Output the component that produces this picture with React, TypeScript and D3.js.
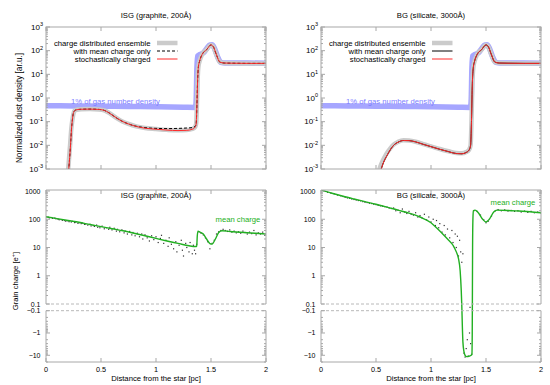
import React from 'react';
import * as d3 from 'd3';

const FONT = "'Liberation Sans', Arial, Helvetica, sans-serif";

// ---------- data ----------
const distTicks = [0, 0.5, 1, 1.5, 2];
const distTickLabels = ['0', '0.5', '1', '1.5', '2'];
const densityExps = [-3, -2, -1, 0, 1, 2, 3];
const chargePosTicks = [0.1, 1, 10, 100, 1000];
const chargePosLabels = ['0.1', '1', '10', '100', '1000'];
const chargeNegTicks = [0.1, 1, 10];
const chargeNegLabels = ['\u22120.1', '\u22121', '\u221210'];

const panelTitles = ['ISG (graphite, 200\u00C5)', 'BG (silicate, 3000\u00C5)'];
const legendLabels = ['charge distributed ensemble', 'with mean charge only', 'stochastically charged'];

// gas (1% of gas number density) - same in both panels
const gasX = [0, 0.25, 0.5, 0.75, 1.0, 1.25, 1.36, 1.366, 1.372, 1.38, 1.4, 1.43, 1.46, 1.49, 1.51, 1.53, 1.56, 1.59, 1.63, 1.75, 2.0];
const gasY = [0.47, 0.46, 0.45, 0.44, 0.43, 0.41, 0.4, 1, 20, 60, 70, 80, 120, 175, 178, 130, 55, 32, 30, 30, 29.5];

// ISG density
const isgEnsX = [0.2, 0.21, 0.22, 0.23, 0.24, 0.25, 0.26, 0.28, 0.32, 0.4, 0.48, 0.53, 0.57, 0.61, 0.65, 0.7, 0.75, 0.82, 0.9, 1.0, 1.1, 1.2, 1.28, 1.33, 1.355, 1.365, 1.372, 1.378, 1.385, 1.395, 1.42, 1.46, 1.5, 1.52, 1.55, 1.58, 1.62, 1.7, 1.85, 2.0];
const isgEnsY = [0.0008, 0.003, 0.012, 0.05, 0.12, 0.22, 0.29, 0.32, 0.335, 0.34, 0.33, 0.3, 0.24, 0.18, 0.135, 0.1, 0.08, 0.063, 0.054, 0.049, 0.045, 0.043, 0.044, 0.049, 0.059, 0.08, 0.5, 5, 20, 34, 70, 110, 175, 150, 66, 33, 30, 29.5, 29, 29];
const isgMeanX = [0.205, 0.215, 0.224, 0.232, 0.24, 0.248, 0.26, 0.28, 0.32, 0.4, 0.48, 0.53, 0.57, 0.61, 0.65, 0.7, 0.75, 0.82, 0.9, 1.0, 1.1, 1.2, 1.28, 1.33, 1.355, 1.365, 1.372, 1.378, 1.385, 1.395, 1.42, 1.46, 1.5, 1.52, 1.55, 1.58, 1.62, 1.7, 1.85, 2.0];
const isgMeanY = [0.0008, 0.003, 0.012, 0.05, 0.12, 0.22, 0.29, 0.32, 0.335, 0.34, 0.33, 0.3, 0.24, 0.18, 0.135, 0.1, 0.08, 0.064, 0.056, 0.052, 0.051, 0.052, 0.054, 0.056, 0.062, 0.08, 0.5, 5, 20, 34, 70, 110, 175, 150, 66, 33, 30, 29.5, 29, 29];
const isgStoX = isgMeanX;
const isgStoY = [0.0008, 0.003, 0.012, 0.05, 0.12, 0.22, 0.29, 0.32, 0.335, 0.34, 0.33, 0.3, 0.24, 0.18, 0.135, 0.1, 0.08, 0.063, 0.053, 0.048, 0.044, 0.042, 0.043, 0.048, 0.058, 0.08, 0.5, 5, 20, 34, 70, 110, 175, 150, 66, 33, 30, 29.5, 29, 29];

// BG density
const bgEnsX = [0.525, 0.54, 0.56, 0.58, 0.6, 0.63, 0.66, 0.7, 0.75, 0.8, 0.86, 0.93, 1.0, 1.08, 1.16, 1.23, 1.28, 1.32, 1.345, 1.36, 1.368, 1.375, 1.385, 1.395, 1.42, 1.46, 1.5, 1.52, 1.55, 1.58, 1.62, 1.7, 1.85, 2.0];
const bgEnsY = [0.0008, 0.0013, 0.0022, 0.0033, 0.0048, 0.0075, 0.0108, 0.014, 0.0163, 0.016, 0.0142, 0.0112, 0.009, 0.007, 0.0056, 0.0047, 0.0046, 0.0052, 0.0064, 0.01, 0.1, 3, 20, 34, 70, 110, 175, 150, 66, 33, 30, 29.5, 29, 29];
const bgMeanX = [0.545, 0.56, 0.58, 0.6, 0.63, 0.66, 0.7, 0.75, 0.8, 0.86, 0.93, 1.0, 1.08, 1.16, 1.23, 1.28, 1.32, 1.345, 1.36, 1.368, 1.375, 1.385, 1.395, 1.42, 1.46, 1.5, 1.52, 1.55, 1.58, 1.62, 1.7, 1.85, 2.0];
const bgMeanY = [0.0009, 0.0015, 0.0025, 0.0037, 0.0065, 0.01, 0.0135, 0.016, 0.0158, 0.014, 0.011, 0.0088, 0.0068, 0.0054, 0.0045, 0.0044, 0.005, 0.0062, 0.01, 0.1, 3, 20, 34, 70, 110, 175, 150, 66, 33, 30, 29.5, 29, 29];
const bgStoX = bgMeanX;
const bgStoY = bgMeanY;

// ISG charge
const isgChargeX = [0, 0.1, 0.2, 0.3, 0.4, 0.5, 0.6, 0.7, 0.8, 0.9, 1.0, 1.1, 1.2, 1.3, 1.36, 1.37, 1.375, 1.382, 1.4, 1.43, 1.46, 1.49, 1.51, 1.54, 1.57, 1.6, 1.65, 1.7, 1.8, 1.9, 2.0];
const isgChargeY = [123, 105, 90, 78, 65, 55, 46, 39, 32, 26, 21, 17, 14, 11.5, 10.8, 11, 25, 38, 35, 30, 20, 13.8, 13.2, 20, 34, 39, 38, 36, 34, 32, 30];
const isgDotX = [0.0, 0.02, 0.03, 0.05, 0.06, 0.08, 0.09, 0.11, 0.12, 0.14, 0.15, 0.17, 0.18, 0.2, 0.21, 0.23, 0.24, 0.26, 0.27, 0.29, 0.3, 0.32, 0.33, 0.35, 0.36, 0.38, 0.4, 0.41, 0.43, 0.44, 0.46, 0.47, 0.49, 0.51, 0.53, 0.55, 0.57, 0.58, 0.6, 0.62, 0.64, 0.65, 0.67, 0.69, 0.71, 0.72, 0.74, 0.76, 0.78, 0.79, 0.81, 0.83, 0.85, 0.87, 0.88, 0.9, 0.92, 0.94, 0.96, 0.98, 1.0, 1.02, 1.04, 1.05, 1.07, 1.09, 1.11, 1.12, 1.14, 1.16, 1.18, 1.19, 1.21, 1.23, 1.24, 1.25, 1.27, 1.28, 1.3, 1.31, 1.33, 1.34, 1.35, 1.36, 1.37, 1.39, 1.41, 1.43, 1.45, 1.47, 1.49, 1.51, 1.53, 1.55, 1.57, 1.59, 1.61, 1.63, 1.65, 1.67, 1.69, 1.71, 1.73, 1.75, 1.77, 1.79, 1.81, 1.83, 1.85, 1.87, 1.89, 1.91, 1.93, 1.95, 1.97, 1.99];
const isgDotY = [120, 118, 112, 115, 108, 110, 104, 100, 96, 97, 92, 90, 85, 88, 82, 80, 84, 76, 79, 72, 75, 70, 73, 66, 68, 62, 66, 58, 60, 56, 62, 52, 50, 57, 46, 50, 44, 52, 42, 48, 38, 44, 36, 42, 33, 38, 30, 37, 28, 34, 26, 32, 24, 30, 20, 28, 22, 17, 26, 19, 24, 15, 21, 27, 14, 18, 11, 22, 13, 9, 16, 7, 12, 18, 8, 5, 14, 10, 7, 15, 6, 12, 8, 6, 13, 36, 32, 28, 22, 16, 9, 14, 18, 30, 36, 40, 44, 40, 37, 42, 35, 38, 33, 36, 32, 38, 34, 30, 35, 31, 40, 28, 33, 30, 35, 27];

// BG charge
const bgChargeX = [0, 0.1, 0.2, 0.3, 0.4, 0.5, 0.6, 0.7, 0.8, 0.9, 1.0, 1.05, 1.1, 1.15, 1.2, 1.23, 1.25, 1.265, 1.275, 1.28, 1.285, 1.29, 1.3, 1.31, 1.325, 1.345, 1.365, 1.372, 1.375, 1.378, 1.381, 1.385, 1.4, 1.43, 1.47, 1.5, 1.53, 1.57, 1.6, 1.7, 1.8, 1.9, 2.0];
const bgChargeY = [1080, 830, 650, 520, 420, 340, 270, 210, 165, 120, 75, 50, 32, 20, 12, 7, 4, 1.5, 0.3, 0.05, -0.5, -2.5, -7, -10, -11.5, -11, -10, -9, -1, 10, 100, 200, 210, 170, 100, 80, 100, 180, 210, 205, 195, 185, 170];
const bgDotX = [0.0, 0.03, 0.06, 0.09, 0.12, 0.15, 0.18, 0.2, 0.22, 0.24, 0.26, 0.28, 0.3, 0.32, 0.34, 0.36, 0.38, 0.4, 0.42, 0.44, 0.46, 0.48, 0.5, 0.52, 0.54, 0.56, 0.58, 0.6, 0.62, 0.64, 0.66, 0.68, 0.7, 0.72, 0.74, 0.76, 0.78, 0.8, 0.82, 0.84, 0.86, 0.88, 0.9, 0.92, 0.94, 0.96, 0.98, 1.0, 1.02, 1.04, 1.05, 1.07, 1.08, 1.1, 1.12, 1.13, 1.15, 1.17, 1.19, 1.2, 1.22, 1.23, 1.24, 1.25, 1.26, 1.27, 1.28, 1.29, 1.3, 1.31, 1.32, 1.33, 1.34, 1.35, 1.355, 1.36, 1.37, 1.39, 1.42, 1.45, 1.48, 1.5, 1.52, 1.55, 1.58, 1.61, 1.64, 1.67, 1.7, 1.73, 1.76, 1.79, 1.82, 1.85, 1.88, 1.91, 1.94, 1.97, 2.0];
const bgDotY = [1050, 980, 900, 840, 790, 720, 680, 640, 600, 570, 550, 520, 500, 480, 460, 450, 420, 400, 390, 370, 360, 340, 330, 310, 300, 290, 280, 270, 250, 240, 250, 200, 210, 170, 230, 180, 160, 190, 150, 140, 170, 120, 135, 110, 150, 95, 120, 80, 100, 60, 90, 50, 70, 35, 60, 28, 45, 22, 40, 15, 30, 10, 25, 5, 18, 7, 3, 6, -8, -12, -5, -2, -11, -1, 0, -3, -9, 200, 190, 140, 95, 75, 85, 130, 190, 220, 200, 215, 195, 205, 190, 200, 180, 195, 175, 190, 170, 180, 165];

// ---------- styles ----------
const FRAME = '#a8a8a8';
const GAS = '#a6a6ff';
const GAS_TEXT = '#7c7cff';
const ENS = '#cbcbcb';
const RED = '#ff2a2a';
const GREEN = '#22b022';
const FS = 7.7;
const TFS = 7;

const PW = 220;

function xScale(x0: number) {
  return d3.scaleLinear().domain([0, 2]).range([x0, x0 + PW]);
}

function pathFrom(X: number[], Y: number[], fx: (v: number) => number, fy: (v: number) => number) {
  const gen = d3.line<[number, number]>().curve(d3.curveMonotoneX);
  return gen(X.map((x, i) => [fx(x), fy(Y[i])] as [number, number])) || '';
}

function minorLog(lo: number, hi: number) {
  const out: number[] = [];
  for (let e = lo; e < hi; e++) for (let k = 2; k <= 9; k++) out.push(k * Math.pow(10, e));
  return out;
}

function DensityPanel({ idx, x0, ensX, ensY, meanX, meanY, meanDash, stoX, stoY, showYLabel }: any) {
  const xs = xScale(x0);
  const top = 27, bot = 169;
  const ys = d3.scaleLog().domain([1e-3, 1e3]).range([bot, top]);
  const clipId = 'clipD' + idx;
  const lx = x0 + 104.5;
  const legY = [43, 51, 59];
  return (
    <g>
      <defs>
        <clipPath id={clipId}><rect x={x0} y={top} width={PW} height={bot - top} /></clipPath>
      </defs>
      <text x={x0 + 110} y={18} textAnchor="middle" fontSize={FS} fontFamily={FONT}>{panelTitles[idx]}</text>
      <g clipPath={`url(#${clipId})`} fill="none">
        <path d={pathFrom(gasX, gasY, xs, ys)} stroke={GAS} strokeWidth={5.5} strokeLinejoin="round" />
        <path d={pathFrom(ensX, ensY, xs, ys)} stroke={ENS} strokeWidth={4.5} strokeLinejoin="round" />
        <path d={pathFrom(meanX, meanY, xs, ys)} stroke="#000" strokeWidth={1} strokeDasharray={meanDash ? '3,2' : undefined} />
        <path d={pathFrom(stoX, stoY, xs, ys)} stroke={RED} strokeWidth={1} />
      </g>
      <text x={x0 + 25} y={103.5} fontSize={FS} fontFamily={FONT} fill={GAS_TEXT}>1% of gas number density</text>
      {/* legend */}
      {legendLabels.map((l, i) => (
        <text key={l} x={lx} y={legY[i] + 2.7} textAnchor="end" fontSize={FS} fontFamily={FONT}>{l}</text>
      ))}
      <line x1={lx + 6.5} x2={lx + 27} y1={legY[0]} y2={legY[0]} stroke={ENS} strokeWidth={4.5} />
      <line x1={lx + 6.5} x2={lx + 27} y1={legY[1]} y2={legY[1]} stroke="#000" strokeWidth={1} strokeDasharray={meanDash ? '3,2' : undefined} />
      <line x1={lx + 6.5} x2={lx + 27} y1={legY[2]} y2={legY[2]} stroke={RED} strokeWidth={1} />
      {/* frame */}
      <rect x={x0} y={top} width={PW} height={bot - top} fill="none" stroke={FRAME} strokeWidth={1} />
      {densityExps.map((e) => {
        const y = ys(Math.pow(10, e));
        return (
          <g key={e}>
            <line x1={x0} x2={x0 + 4} y1={y} y2={y} stroke={FRAME} />
            <line x1={x0 + PW} x2={x0 + PW - 4} y1={y} y2={y} stroke={FRAME} />
            <text x={x0 - 3} y={y + 2.8} textAnchor="end" fontSize={8} fontFamily={FONT}>
              10<tspan dy={-3.5} fontSize={5.5}>{String(e)}</tspan>
            </text>
          </g>
        );
      })}
      {minorLog(-3, 3).map((v, i) => {
        const y = ys(v);
        return (
          <g key={'m' + i}>
            <line x1={x0} x2={x0 + 2} y1={y} y2={y} stroke={FRAME} />
            <line x1={x0 + PW} x2={x0 + PW - 2} y1={y} y2={y} stroke={FRAME} />
          </g>
        );
      })}
      {distTicks.map((t) => (
        <g key={t}>
          <line x1={xs(t)} x2={xs(t)} y1={bot} y2={bot - 4} stroke={FRAME} />
          <line x1={xs(t)} x2={xs(t)} y1={top} y2={top + 4} stroke={FRAME} />
        </g>
      ))}
      {showYLabel && (
        <text transform={`translate(21.8,108) rotate(-90)`} textAnchor="middle" fontSize={8.2} fontFamily={FONT}>Normalized dust density [ar.u.]</text>
      )}
    </g>
  );
}

function ChargePanel({ idx, x0, qX, qY, dotX, dotY, showYLabel, labelY }: any) {
  const xs = xScale(x0);
  const top = 190, bot = 362, yBreakUp = 304, yBreakLo = 310.7;
  const yUp = d3.scaleLog().domain([0.1, 1000]).range([yBreakUp, 191]);
  const yLo = d3.scaleLog().domain([0.1, 20]).range([yBreakLo, bot]);
  const yq = (v: number) => {
    if (v >= 0.1) return yUp(v);
    if (v <= -0.1) return yLo(-v);
    return yBreakUp + ((0.1 - v) / 0.2) * (yBreakLo - yBreakUp);
  };
  const clipId = 'clipC' + idx;
  return (
    <g>
      <defs>
        <clipPath id={clipId}><rect x={x0} y={top} width={PW} height={bot - top} /></clipPath>
      </defs>
      <text x={x0 + 110} y={198} textAnchor="middle" fontSize={FS} fontFamily={FONT}>{panelTitles[idx]}</text>
      <text x={x0 + 169.5} y={labelY} fontSize={FS} fontFamily={FONT} fill={GREEN}>mean charge</text>
      <g clipPath={`url(#${clipId})`}>
        {dotX.map((x: number, i: number) => (
          <rect key={i} x={xs(x) - 0.6} y={yq(dotY[i]) - 0.6} width={1.2} height={1.2} fill="#333" />
        ))}
        <path d={pathFrom(qX, qY, xs, yq)} fill="none" stroke={GREEN} strokeWidth={1.4} />
      </g>
      {/* frame */}
      <path d={`M${x0},${yBreakUp}V${top}H${x0 + PW}V${yBreakUp}`} fill="none" stroke={FRAME} />
      <path d={`M${x0},${yBreakLo}V${bot}H${x0 + PW}V${yBreakLo}`} fill="none" stroke={FRAME} />
      <line x1={x0} x2={x0 + PW} y1={yBreakUp} y2={yBreakUp} stroke="#b8b8b8" strokeDasharray="3,2" />
      <line x1={x0} x2={x0 + PW} y1={yBreakLo} y2={yBreakLo} stroke="#b8b8b8" strokeDasharray="3,2" />
      {chargePosTicks.map((v, i) => {
        const y = yUp(v);
        return (
          <g key={'p' + v}>
            <line x1={x0} x2={x0 + 4} y1={y} y2={y} stroke={FRAME} />
            <line x1={x0 + PW} x2={x0 + PW - 4} y1={y} y2={y} stroke={FRAME} />
            <text x={x0 - 5.5} y={y + 2.5} textAnchor="end" fontSize={TFS} fontFamily={FONT}>{chargePosLabels[i]}</text>
          </g>
        );
      })}
      {minorLog(-1, 3).map((v, i) => {
        const y = yUp(v);
        return (
          <g key={'pm' + i}>
            <line x1={x0} x2={x0 + 2} y1={y} y2={y} stroke={FRAME} />
            <line x1={x0 + PW} x2={x0 + PW - 2} y1={y} y2={y} stroke={FRAME} />
          </g>
        );
      })}
      {chargeNegTicks.map((v, i) => {
        const y = yLo(v);
        return (
          <g key={'n' + v}>
            <line x1={x0} x2={x0 + 4} y1={y} y2={y} stroke={FRAME} />
            <line x1={x0 + PW} x2={x0 + PW - 4} y1={y} y2={y} stroke={FRAME} />
            <text x={x0 - 5.5} y={y + 2.5} textAnchor="end" fontSize={TFS} fontFamily={FONT}>{chargeNegLabels[i]}</text>
          </g>
        );
      })}
      {minorLog(-1, 1).concat([20]).map((v, i) => {
        const y = yLo(v);
        return (
          <g key={'nm' + i}>
            <line x1={x0} x2={x0 + 2} y1={y} y2={y} stroke={FRAME} />
            <line x1={x0 + PW} x2={x0 + PW - 2} y1={y} y2={y} stroke={FRAME} />
          </g>
        );
      })}
      {distTicks.map((t, i) => (
        <g key={t}>
          <line x1={xs(t)} x2={xs(t)} y1={bot} y2={bot - 4} stroke={FRAME} />
          <line x1={xs(t)} x2={xs(t)} y1={top} y2={top + 4} stroke={FRAME} />
          <text x={xs(t)} y={372} textAnchor="middle" fontSize={TFS + 0.3} fontFamily={FONT}>{distTickLabels[i]}</text>
        </g>
      ))}
      <text x={x0 + 110} y={380.5} textAnchor="middle" fontSize={FS} fontFamily={FONT}>Distance from the star [pc]</text>
      {showYLabel && (
        <text transform={`translate(17.8,281) rotate(-90)`} textAnchor="middle" fontSize={FS} fontFamily={FONT}>
          Grain charge [e<tspan dy={-3} fontSize={5.5}>+</tspan><tspan dy={3}>]</tspan>
        </text>
      )}
    </g>
  );
}

export default function App() {
  return (
    <svg width={550} height={385} viewBox="0 0 550 385" style={{ position: 'absolute', left: 0, top: 0, background: '#fff' }}>
      <rect x={0} y={0} width={550} height={385} fill="#fff" />
      <DensityPanel idx={0} x0={46} ensX={isgEnsX} ensY={isgEnsY} meanX={isgMeanX} meanY={isgMeanY} meanDash={true} stoX={isgStoX} stoY={isgStoY} showYLabel={true} />
      <DensityPanel idx={1} x0={321} ensX={bgEnsX} ensY={bgEnsY} meanX={bgMeanX} meanY={bgMeanY} meanDash={false} stoX={bgStoX} stoY={bgStoY} showYLabel={false} />
      <ChargePanel idx={0} x0={46} qX={isgChargeX} qY={isgChargeY} dotX={isgDotX} dotY={isgDotY} showYLabel={true} labelY={222} />
      <ChargePanel idx={1} x0={321} qX={bgChargeX} qY={bgChargeY} dotX={bgDotX} dotY={bgDotY} showYLabel={false} labelY={204.5} />
    </svg>
  );
}
